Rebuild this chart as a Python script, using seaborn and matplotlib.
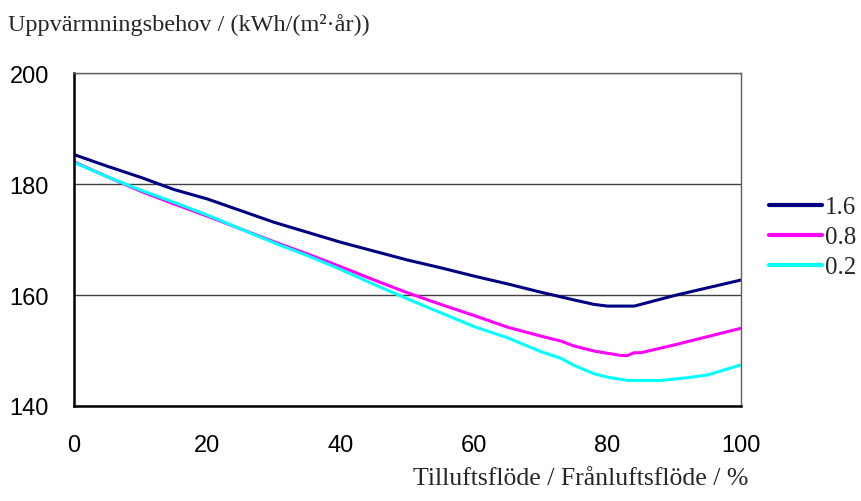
import matplotlib
matplotlib.use("Agg")
import matplotlib.pyplot as plt
import seaborn as sns
import pandas as pd

# Data
x_16 = [0, 5, 10, 15, 20, 25, 30, 35, 40, 45, 50, 55, 60, 65, 70, 75, 78, 80, 84, 90, 95, 100]
y_16 = [185.3, 183.2, 181.2, 179.0, 177.3, 175.2, 173.1, 171.3, 169.5, 167.9, 166.3, 164.9,
        163.4, 162.0, 160.5, 159.1, 158.3, 158.0, 158.0, 159.9, 161.3, 162.7]

x_08 = [0, 5, 10, 15, 20, 25, 30, 35, 40, 45, 50, 55, 60, 65, 70, 73, 75, 78, 80, 82, 83, 84, 85, 90, 95, 100]
y_08 = [184.0, 181.3, 178.7, 176.4, 174.2, 171.9, 169.6, 167.4, 165.1, 162.7, 160.4, 158.3,
        156.3, 154.2, 152.6, 151.7, 150.8, 149.9, 149.5, 149.1, 149.1, 149.6, 149.6, 151.0, 152.5, 154.0]

x_02 = [0, 5, 10, 15, 20, 25, 30, 35, 40, 45, 50, 55, 60, 65, 70, 73, 75, 78, 80, 83, 88, 92, 95, 100]
y_02 = [183.9, 181.3, 178.9, 176.7, 174.4, 171.9, 169.4, 167.1, 164.6, 161.9, 159.3, 156.8,
        154.3, 152.3, 149.8, 148.6, 147.3, 145.8, 145.2, 144.6, 144.6, 145.1, 145.6, 147.4]

series_labels = ["1.6", "0.8", "0.2"]
colors = ["#000080", "#FF00FF", "#00FFFF"]
x_ticks = [0, 20, 40, 60, 80, 100]
y_ticks = [140, 160, 180, 200]
y_label = "Uppvärmningsbehov / (kWh/(m²·år))"
x_label = "Tilluftsflöde / Frånluftsflöde / %"

frames = []
for lab, xs, ys in zip(series_labels, [x_16, x_08, x_02], [y_16, y_08, y_02]):
    frames.append(pd.DataFrame({"x": xs, "y": ys, "serie": lab}))
df = pd.concat(frames, ignore_index=True)

sns.set_theme(style="white")
plt.rcParams['font.family'] = ['Liberation Sans', 'DejaVu Sans']

fig = plt.figure(figsize=(8.61, 5.02), dpi=100)
ax = fig.add_axes([74 / 861, 1 - 407 / 502, (741 - 74) / 861, (407 - 74) / 502])

sns.lineplot(data=df, x="x", y="y", hue="serie", hue_order=series_labels,
             palette=colors, linewidth=2.2, ax=ax, sort=False, legend=True)

ax.set_xlim(0, 100)
ax.set_ylim(140, 200)
ax.set_xticks(x_ticks)
ax.set_yticks(y_ticks)
ax.tick_params(axis="both", which="both", direction="out", length=6, width=1,
               colors="black", labelsize=17)
ax.tick_params(axis="y", pad=12)
ax.tick_params(axis="x", pad=14)
for lbl in ax.get_xticklabels() + ax.get_yticklabels():
    lbl.set_fontfamily(['Liberation Sans'])

ax.yaxis.grid(True, color="#404040", linewidth=1)
ax.xaxis.grid(False)
ax.set_axisbelow(True)

for side in ["left", "bottom"]:
    ax.spines[side].set_color("black")
    ax.spines[side].set_linewidth(1.8)
for side in ["top", "right"]:
    ax.spines[side].set_color("#606060")
    ax.spines[side].set_linewidth(1)
    ax.spines[side].set_visible(True)

ax.set_xlabel("")
ax.set_ylabel("")

fig.text(8 / 861, 1 - 25 / 502, y_label, ha="left", va="center",
         fontsize=17.5, family=['Liberation Serif'])
fig.text(748 / 861, 1 - 479 / 502, x_label, ha="right", va="center",
         fontsize=18.5, family=['Liberation Serif'])

leg = ax.legend(title=None, frameon=False, loc="center left",
                bbox_to_anchor=(769 / 861, 1 - 238 / 502), bbox_transform=fig.transFigure,
                borderpad=0, borderaxespad=0, handlelength=2.1, handletextpad=0.12,
                labelspacing=0.3, prop={'family': 'Liberation Serif', 'size': 18})
for h in leg.get_lines():
    h.set_linewidth(3)

fig.savefig("out.png", dpi=100)
